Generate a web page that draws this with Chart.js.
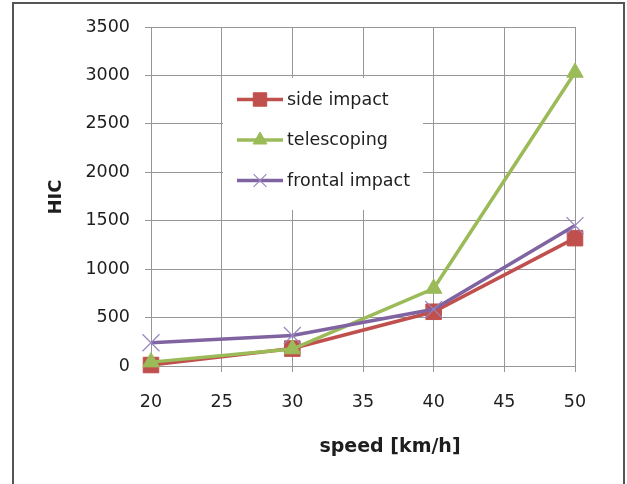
<!DOCTYPE html>
<html>
<head>
<meta charset="utf-8">
<script src="https://cdn.jsdelivr.net/npm/chart.js@4"></script>
<style>
    body { margin: 0; background: #fff; }
    #frame { position: absolute; left: 12px; top: 2px; width: 613px; height: 600px; border: 2px solid #555; box-sizing: border-box; }
    #wrap { position: absolute; left: 0; top: 0; width: 627px; height: 484px; }
</style>
</head>
<body>
<div id="frame"></div>
<div id="wrap"><canvas id="hicChart"></canvas></div>
<script>
// speeds [km/h] and HIC values
const speeds = [20, 30, 40, 50];
const sideImpact = [10, 180, 560, 1320];
const telescoping = [40, 175, 800, 3030];
const frontalImpact = [240, 315, 585, 1450];

const seriesNames = ['side impact', 'telescoping', 'frontal impact'];
const xTicks = { min: 20, max: 50, step: 5 };
const yTicks = { min: 0, max: 3500, step: 500 };

const xTitle = 'speed [km/h]';
const yTitle = 'HIC';

const gridColor = '#969696';
const textColor = '#1e1e1e';

function toPoints(values) {
    return values.map((v, i) => ({ x: speeds[i], y: v }));
}

// legend sits inside the plot, like the spreadsheet one
const insideLegend = {
    id: 'insideLegend',
    beforeDatasetsDraw(chart) {
        const ctx = chart.ctx;
        ctx.save();
        ctx.fillStyle = '#fff';
        ctx.fillRect(223, 78, 200, 132);

        const rows = [99.5, 140, 180.5];
        const sizes = [9.5, 8, 9];
        chart.data.datasets.forEach((ds, i) => {
            const y = rows[i];
            ctx.strokeStyle = ds.borderColor;
            ctx.lineWidth = 3.5;
            ctx.beginPath();
            ctx.moveTo(237, y);
            ctx.lineTo(283, y);
            ctx.stroke();

            ctx.fillStyle = ds.pointBackgroundColor;
            ctx.strokeStyle = ds.pointBorderColor;
            ctx.lineWidth = ds.pointBorderWidth;
            Chart.helpers.drawPoint(ctx, {
                pointStyle: ds.pointStyle,
                radius: sizes[i],
                rotation: 0,
                borderWidth: ds.pointBorderWidth
            }, 260, y);

            ctx.fillStyle = textColor;
            ctx.font = '17.5px "DejaVu Sans"';
            ctx.textAlign = 'left';
            ctx.textBaseline = 'middle';
            ctx.fillText(ds.label, 287, y + 0.5);
        });
        ctx.restore();
    }
};

const axisTitles = {
    id: 'axisTitles',
    afterDraw(chart) {
        const ctx = chart.ctx;
        ctx.save();
        ctx.fillStyle = textColor;
        ctx.textAlign = 'center';
        ctx.textBaseline = 'middle';
        ctx.font = 'bold 19px "DejaVu Sans"';
        ctx.fillText(xTitle, 390, 447);

        ctx.translate(56, 197);
        ctx.rotate(-Math.PI / 2);
        ctx.font = 'bold 18px "DejaVu Sans"';
        ctx.fillText(yTitle, 0, 0);
        ctx.restore();
    }
};

const ctx = document.getElementById('hicChart').getContext('2d');
const hicChart = new Chart(ctx, {
    type: 'line',
    data: {
        datasets: [{
            label: seriesNames[0],
            data: toPoints(sideImpact),
            borderColor: '#c0504d',
            borderWidth: 3.5,
            pointStyle: 'rect',
            pointRadius: 11,
            pointBackgroundColor: '#c0504d',
            pointBorderColor: '#c0504d',
            pointBorderWidth: 1,
            order: 3,
            clip: false
        }, {
            label: seriesNames[1],
            data: toPoints(telescoping),
            borderColor: '#9bbb59',
            borderWidth: 3.5,
            pointStyle: 'triangle',
            pointRadius: 9.5,
            pointBackgroundColor: '#9bbb59',
            pointBorderColor: '#9bbb59',
            pointBorderWidth: 1,
            order: 2,
            clip: false
        }, {
            label: seriesNames[2],
            data: toPoints(frontalImpact),
            borderColor: '#8064a2',
            borderWidth: 3.5,
            pointStyle: 'crossRot',
            pointRadius: 12,
            pointBackgroundColor: '#9a86c0',
            pointBorderColor: '#9a86c0',
            pointBorderWidth: 1.2,
            order: 1,
            clip: false
        }]
    },
    options: {
        responsive: true,
        maintainAspectRatio: false,
        animation: false,
        layout: {
            padding: { top: 27, right: 52, bottom: 0, left: 0 }
        },
        plugins: {
            legend: { display: false },
            tooltip: { enabled: false }
        },
        scales: {
            x: {
                type: 'linear',
                min: xTicks.min,
                max: xTicks.max,
                afterFit(scale) { scale.height = 118; },
                ticks: {
                    stepSize: xTicks.step,
                    color: textColor,
                    padding: 20,
                    font: { family: 'DejaVu Sans', size: 17.5 }
                },
                grid: { color: gridColor, tickLength: 6, tickColor: gridColor },
                border: { color: gridColor }
            },
            y: {
                min: yTicks.min,
                max: yTicks.max,
                afterFit(scale) { scale.width = 151; },
                ticks: {
                    stepSize: yTicks.step,
                    color: textColor,
                    padding: 15,
                    format: { useGrouping: false },
                    font: { family: 'DejaVu Sans', size: 17.5 }
                },
                grid: { color: gridColor, tickLength: 6, tickColor: gridColor },
                border: { color: gridColor }
            }
        }
    },
    plugins: [insideLegend, axisTitles]
});
</script>
</body>
</html>
